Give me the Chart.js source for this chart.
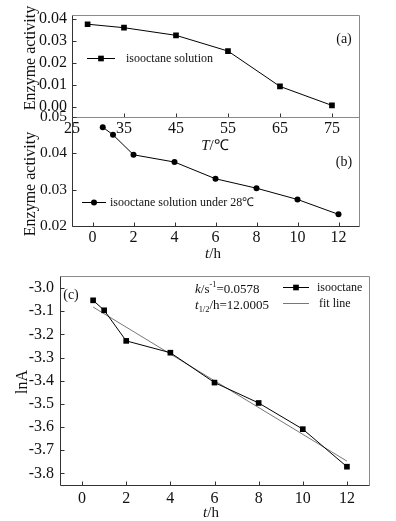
<!DOCTYPE html>
<html><head><meta charset="utf-8">
<script src="https://cdn.jsdelivr.net/npm/chart.js@4.4.1/dist/chart.umd.min.js"></script>
<style>
html,body{margin:0;padding:0;background:#fff;}
body{width:396px;height:521px;overflow:hidden;position:relative;font-family:"Liberation Serif","Times New Roman",serif;color:#111;}
canvas{position:absolute;left:0;}
.t{position:absolute;white-space:nowrap;line-height:1;transform:translate(-50%,-50%);}
.l{position:absolute;white-space:nowrap;line-height:1;transform:translate(0,-50%);}
.rot{transform:translate(-50%,-50%) rotate(-90deg);}
sup,sub{font-size:65%;line-height:0;}
</style></head>
<body>
<canvas id="ca" width="396" height="160" style="top:0"></canvas>
<canvas id="cb" width="396" height="160" style="top:100px"></canvas>
<canvas id="cc" width="396" height="261" style="top:260px"></canvas>

<div class="t rot" style="left:30px;top:58px;font-size:16px">Enzyme activity</div>
<div class="t rot" style="left:30px;top:184px;font-size:16px">Enzyme activity</div>
<div class="t rot" style="left:22px;top:382px;font-size:16px">lnA</div>
<div class="t" style="left:215px;top:145px;font-size:15px"><i>T</i>/℃</div>
<div class="t" style="left:213px;top:253px;font-size:15px"><i>t</i>/h</div>
<div class="t" style="left:211px;top:512px;font-size:15px"><i>t</i>/h</div>
<div class="t" style="left:344px;top:39px;font-size:14px">(a)</div>
<div class="t" style="left:344px;top:162px;font-size:14px">(b)</div>
<div class="t" style="left:71px;top:295px;font-size:14px">(c)</div>
<div class="l" style="left:195px;top:288px;font-size:13px"><i>k</i>/s<sup>-1</sup>=0.0578</div>
<div class="l" style="left:195px;top:304px;font-size:13px"><i>t</i><sub>1/2</sub>/h=12.0005</div>

<script>
// ---- data ----
const tempC = [28, 35, 45, 55, 65, 75];
const activityTemp = [0.0377, 0.0361, 0.0326, 0.0254, 0.0092, 0.0005];
const timeH = [0.5, 1, 2, 4, 6, 8, 10, 12];
const activityTime = [0.0472, 0.0451, 0.0396, 0.0376, 0.0330, 0.0304, 0.0273, 0.0232];
const lnA = [-3.053, -3.096, -3.228, -3.279, -3.408, -3.496, -3.609, -3.771];
const fitT = [0.5, 12];
const fitLnA = [-3.082, -3.747];
// ---- tick labels ----
const tempTicks = [25, 35, 45, 55, 65, 75];
const actTicksA = [0.00, 0.01, 0.02, 0.03, 0.04];
const actTicksB = [0.02, 0.03, 0.04, 0.05];
const timeTicks = [0, 2, 4, 6, 8, 10, 12];
const lnATicks = [-3.8, -3.7, -3.6, -3.5, -3.4, -3.3, -3.2, -3.1, -3.0];

const FONT = '"Liberation Serif","Times New Roman",serif';
const pts = (xs, ys) => xs.map((x, i) => ({x, y: ys[i]}));

const framePlugin = {
  id: 'frame',
  afterDraw(chart) {
    const {ctx, chartArea: a, scales: {x, y}} = chart;
    ctx.save();
    ctx.lineWidth = 1;
    const L = Math.round(a.left) + 0.5, R = Math.round(a.right) + 0.5;
    const T = Math.round(a.top) + 0.5, B = Math.round(a.bottom) + 0.5;
    ctx.strokeStyle = '#8a8a8a';
    ctx.beginPath(); ctx.moveTo(L, T); ctx.lineTo(R, T); ctx.lineTo(R, B); ctx.stroke();
    ctx.strokeStyle = '#333';
    ctx.beginPath(); ctx.moveTo(L, T); ctx.lineTo(L, B); ctx.lineTo(R, B); ctx.stroke();
    ctx.beginPath();
    x.ticks.forEach(t => { const p = Math.round(x.getPixelForValue(t.value)) + 0.5; ctx.moveTo(p, B); ctx.lineTo(p, B - 4); });
    y.ticks.forEach(t => { const p = Math.round(y.getPixelForValue(t.value)) + 0.5; ctx.moveTo(L, p); ctx.lineTo(L + 4, p); });
    ctx.stroke();
    ctx.restore();
  }
};

const legendPlugin = {
  id: 'lg',
  afterDraw(chart, args, opts) {
    if (!opts || !opts.items) return;
    const ctx = chart.ctx;
    ctx.save();
    opts.items.forEach(it => {
      const ds = chart.data.datasets[it.ds];
      const x0 = it.x, y0 = it.y + 0.5;
      ctx.strokeStyle = ds.borderColor; ctx.lineWidth = ds.borderWidth;
      ctx.beginPath(); ctx.moveTo(x0, y0); ctx.lineTo(x0 + it.len, y0); ctx.stroke();
      const cx = x0 + it.len / 2;
      ctx.fillStyle = '#000';
      if (ds.pointRadius > 0) {
        if (ds.pointStyle === 'rect') { const s = ds.pointRadius * Math.SQRT1_2; ctx.fillRect(cx - s, y0 - s, 2 * s, 2 * s); }
        else { ctx.beginPath(); ctx.arc(cx, y0, ds.pointRadius, 0, Math.PI * 2); ctx.fill(); }
      }
      ctx.fillStyle = '#111';
      ctx.font = (it.size || 12) + 'px ' + FONT;
      ctx.textBaseline = 'middle';
      ctx.fillText(ds.label, x0 + it.len + it.gap, y0);
    });
    ctx.restore();
  }
};

function axis(min, max, ticks, fmt, isX, size, pad, fs) {
  return {
    type: 'linear', min, max,
    afterBuildTicks: s => { s.ticks = ticks.map(v => ({value: v})); },
    grid: {display: false, drawTicks: false},
    border: {display: false},
    ticks: {padding: pad, color: '#111', font: {family: FONT, size: fs}, callback: fmt, autoSkip: false, maxRotation: 0},
    afterFit: s => { if (isX) s.height = size; else s.width = size; }
  };
}

const common = (padding) => ({
  responsive: false, animation: false, devicePixelRatio: 1,
  layout: {padding},
  plugins: {legend: {display: false}, tooltip: {enabled: false}}
});

const dsStyle = {borderColor: '#000', backgroundColor: '#000', borderWidth: 1, showLine: true, tension: 0, pointBorderWidth: 0};

// (a)
new Chart(document.getElementById('ca'), {
  type: 'scatter',
  data: {datasets: [Object.assign({label: 'isooctane solution', data: pts(tempC, activityTemp), pointStyle: 'rect', pointRadius: 4}, dsStyle)]},
  options: Object.assign(common({top: 10, right: 37, left: 0, bottom: 0}), {
    scales: {
      x: axis(25, 80.2, tempTicks, v => String(v), true, 43, 2, 16),
      y: axis(-0.0048, 0.0421, actTicksA, v => v.toFixed(2), false, 72, 5, 16)
    },
    plugins: {legend: {display: false}, tooltip: {enabled: false}, lg: {items: [{ds: 0, x: 87, y: 58, len: 28, gap: 11, size: 12}]}}
  }),
  plugins: [framePlugin, legendPlugin]
});

// (b)
new Chart(document.getElementById('cb'), {
  type: 'scatter',
  data: {datasets: [Object.assign({label: 'isooctane solution under 28℃', data: pts(timeH, activityTime), pointStyle: 'circle', pointRadius: 3}, dsStyle)]},
  options: Object.assign(common({top: 17, right: 37, left: 0, bottom: 0}), {
    scales: {
      x: axis(-1, 13, timeTicks, v => String(v), true, 34, 2, 16),
      y: axis(0.02, 0.05, actTicksB, v => v.toFixed(2), false, 72, 5, 15.5)
    },
    plugins: {legend: {display: false}, tooltip: {enabled: false}, lg: {items: [{ds: 0, x: 82, y: 102, len: 24, gap: 4, size: 12}]}}
  }),
  plugins: [framePlugin, legendPlugin]
});

// (c)
new Chart(document.getElementById('cc'), {
  type: 'scatter',
  data: {datasets: [
    Object.assign({label: 'isooctane', data: pts(timeH, lnA), pointStyle: 'rect', pointRadius: 4}, dsStyle),
    {label: 'fit line', data: pts(fitT, fitLnA), showLine: true, borderColor: '#777', borderWidth: 1, pointRadius: 0, tension: 0}
  ]},
  options: Object.assign(common({top: 16, right: 27, left: 0, bottom: 0}), {
    scales: {
      x: axis(-1, 13, timeTicks, v => String(v), true, 36, 4, 16),
      y: axis(-3.85, -2.948, lnATicks, v => v.toFixed(1), false, 60, 6, 16)
    },
    plugins: {legend: {display: false}, tooltip: {enabled: false}, lg: {items: [
      {ds: 0, x: 283, y: 27, len: 26, gap: 8, size: 12},
      {ds: 1, x: 283, y: 43, len: 26, gap: 10, size: 12}
    ]}}
  }),
  plugins: [framePlugin, legendPlugin]
});
</script>
</body></html>
